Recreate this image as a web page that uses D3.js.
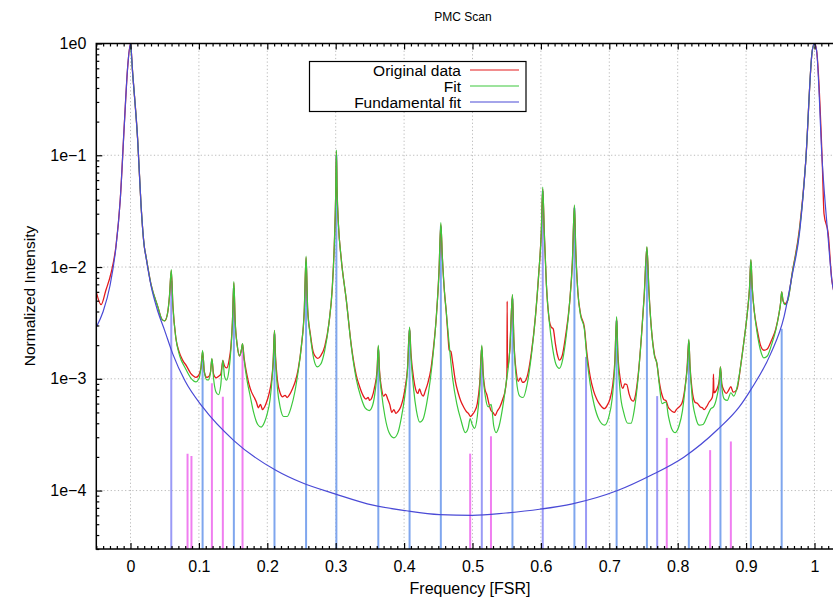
<!DOCTYPE html>
<html>
<head>
<meta charset="utf-8">
<script src="https://cdn.jsdelivr.net/npm/d3@7"></script>
<style>
  body { margin: 0; background: #fff; }
  svg { display: block; font-family: "Liberation Sans", Arial, sans-serif; }
</style>
</head>
<body>
<div id="chart"></div>
<script>
// PMC Scan — mode spectrum on a log scale
// values: [frequency (FSR), normalized intensity]

const originalData = [
  [-0.05, 6.0e-3], [-0.043, 4.6e-3], [-0.036, 6.2e-3], [-0.0285, 8.8e-3], [-0.0212, 0.0155],
  [-0.015, 0.04], [-0.009, 0.19], [-0.0041, 0.62], [0, 1.0], [0.0032, 0.54], [0.0105, 0.137],
  [0.0155, 0.035], [0.0202, 0.0152], [0.0226, 0.0125], [0.03, 7.0e-3], [0.04, 4.4e-3],
  [0.046, 3.4e-3], [0.05, 3.3e-3], [0.054, 3.8e-3], [0.057, 5.5e-3], [0.0596, 9.3e-3],
  [0.062, 4.5e-3], [0.0664, 2.3e-3], [0.071, 1.75e-3], [0.0762, 1.47e-3], [0.082, 1.3e-3],
  [0.088, 1.12e-3], [0.092, 1.06e-3], [0.0956, 1.03e-3], [0.099, 1.06e-3], [0.103, 1.25e-3],
  [0.1054, 1.75e-3], [0.108, 1.15e-3], [0.1115, 1.03e-3], [0.1145, 1.05e-3], [0.117, 1.15e-3],
  [0.119, 1.5e-3], [0.1215, 1.1e-3], [0.125, 1.02e-3], [0.1285, 1.05e-3], [0.132, 1.1e-3],
  [0.135, 1.45e-3], [0.1375, 1.3e-3], [0.1405, 1.25e-3], [0.144, 1.45e-3], [0.147, 2.0e-3],
  [0.149, 3.2e-3], [0.1511, 7.2e-3], [0.153, 3.3e-3], [0.156, 2.0e-3], [0.1595, 1.6e-3],
  [0.162, 1.8e-3], [0.1638, 2.05e-3], [0.166, 1.55e-3], [0.17, 1.1e-3], [0.1735, 8.8e-4],
  [0.177, 7.6e-4], [0.181, 6.8e-4], [0.184, 6.2e-4], [0.187, 5.5e-4], [0.19, 5.9e-4],
  [0.193, 5.3e-4], [0.196, 5.6e-4], [0.199, 6.2e-4], [0.2027, 7.4e-4], [0.206, 9.5e-4],
  [0.2085, 1.4e-3], [0.2105, 2.7e-3], [0.212, 1.6e-3], [0.215, 9.5e-4], [0.219, 7.4e-4],
  [0.2222, 6.9e-4], [0.226, 7.1e-4], [0.229, 6.8e-4], [0.233, 7.3e-4], [0.237, 8.2e-4],
  [0.241, 9.5e-4], [0.245, 1.2e-3], [0.25, 2.0e-3], [0.254, 4.0e-3], [0.2567, 1.22e-2],
  [0.259, 4.2e-3], [0.263, 2.5e-3], [0.267, 1.75e-3], [0.2708, 1.57e-3], [0.274, 1.52e-3],
  [0.278, 1.6e-3], [0.284, 1.95e-3], [0.29, 3.1e-3], [0.295, 6.5e-3], [0.298, 0.016],
  [0.3, 0.044], [0.301, 0.108], [0.302, 0.05], [0.304, 0.024], [0.308, 0.012], [0.3156, 5.0e-3],
  [0.323, 1.95e-3], [0.33, 1.08e-3], [0.335, 8.5e-4], [0.34, 7.1e-4], [0.344, 6.6e-4],
  [0.3475, 6.8e-4], [0.3496, 6.4e-4], [0.353, 6.8e-4], [0.357, 8.5e-4], [0.3605, 1.2e-3],
  [0.3623, 1.95e-3], [0.364, 1.2e-3], [0.367, 8.2e-4], [0.37, 7.0e-4], [0.373, 7.3e-4],
  [0.376, 6.6e-4], [0.379, 5.9e-4], [0.382, 5.0e-4], [0.385, 5.3e-4], [0.388, 4.9e-4],
  [0.391, 5.1e-4], [0.395, 5.6e-4], [0.3985, 6.6e-4], [0.4015, 8.3e-4], [0.405, 1.25e-3],
  [0.408, 2.85e-3], [0.41, 1.7e-3], [0.414, 1.0e-3], [0.417, 8.0e-4], [0.42, 7.4e-4],
  [0.4226, 8.1e-4], [0.425, 7.4e-4], [0.428, 7.0e-4], [0.431, 7.8e-4], [0.435, 9.3e-4],
  [0.439, 1.2e-3], [0.443, 1.9e-3], [0.447, 3.5e-3], [0.451, 9.0e-3], [0.4537, 2.4e-2],
  [0.456, 1.2e-2], [0.459, 6.0e-3], [0.4616, 4.0e-3], [0.464, 2.5e-3], [0.466, 1.8e-3],
  [0.4685, 1.75e-3], [0.471, 1.4e-3], [0.475, 9.5e-4], [0.479, 7.5e-4], [0.483, 6.3e-4],
  [0.487, 5.6e-4], [0.491, 5.1e-4], [0.494, 4.9e-4], [0.497, 4.6e-4], [0.5, 4.8e-4],
  [0.503, 5.1e-4], [0.507, 6.0e-4], [0.5105, 9.0e-4], [0.5136, 1.95e-3], [0.5155, 1.15e-3],
  [0.518, 8.2e-4], [0.521, 7.2e-4], [0.524, 6.0e-4], [0.527, 5.2e-4], [0.53, 5.0e-4],
  [0.533, 4.7e-4], [0.536, 5.1e-4], [0.54, 5.6e-4], [0.5443, 6.6e-4], [0.548, 8.0e-4],
  [0.5503, 1.1e-3], [0.5507, 4.95e-3], [0.5511, 1.25e-3], [0.5545, 1.8e-3], [0.5584, 5.6e-3],
  [0.5605, 2.2e-3], [0.564, 1.15e-3], [0.567, 9.5e-4], [0.57, 1.02e-3], [0.573, 9.3e-4],
  [0.576, 9.4e-4], [0.58, 1.05e-3], [0.586, 1.7e-3], [0.592, 3.6e-3], [0.597, 9.0e-3],
  [0.6005, 2.0e-2], [0.6027, 5.0e-2], [0.605, 2.0e-2], [0.608, 7.0e-3], [0.6124, 3.3e-3],
  [0.615, 2.9e-3], [0.618, 2.8e-3], [0.621, 2.1e-3], [0.624, 1.65e-3], [0.627, 1.47e-3],
  [0.631, 1.6e-3], [0.636, 2.4e-3], [0.642, 4.8e-3], [0.646, 1.1e-2], [0.649, 3.5e-2],
  [0.651, 1.4e-2], [0.654, 6.0e-3], [0.658, 3.8e-3], [0.6635, 2.9e-3], [0.667, 1.75e-3],
  [0.672, 1.05e-3], [0.677, 7.8e-4], [0.682, 6.5e-4], [0.687, 5.8e-4], [0.6927, 5.4e-4],
  [0.697, 5.8e-4], [0.701, 6.6e-4], [0.705, 8.8e-4], [0.708, 1.4e-3], [0.7107, 3.5e-3],
  [0.7125, 1.7e-3], [0.716, 1.0e-3], [0.72, 8.2e-4], [0.7225, 9.0e-4], [0.7255, 8.9e-4],
  [0.729, 7.3e-4], [0.732, 6.5e-4], [0.735, 6.3e-4], [0.738, 7.0e-4], [0.742, 1.05e-3],
  [0.747, 2.4e-3], [0.751, 5.5e-3], [0.755, 1.5e-2], [0.758, 6.0e-3], [0.762, 2.6e-3],
  [0.766, 1.65e-3], [0.7696, 1.37e-3], [0.773, 9.5e-4], [0.777, 7.2e-4], [0.78, 6.5e-4],
  [0.7828, 6.4e-4], [0.786, 5.6e-4], [0.789, 5.3e-4], [0.792, 5.1e-4], [0.795, 5.0e-4],
  [0.798, 5.3e-4], [0.802, 5.6e-4], [0.806, 6.0e-4], [0.81, 7.8e-4], [0.8135, 1.2e-3],
  [0.8163, 2.2e-3], [0.818, 1.3e-3], [0.821, 8.0e-4], [0.825, 6.2e-4], [0.829, 6.0e-4],
  [0.833, 5.6e-4], [0.836, 5.5e-4], [0.8387, 5.3e-4], [0.842, 5.6e-4], [0.846, 6.2e-4],
  [0.8505, 6.8e-4], [0.8518, 8.0e-4], [0.8523, 1.1e-3], [0.853, 7.5e-4], [0.857, 8.0e-4],
  [0.8605, 9.5e-4], [0.8625, 1.28e-3], [0.8645, 9.0e-4], [0.868, 7.8e-4], [0.871, 7.4e-4],
  [0.874, 7.8e-4], [0.8777, 8.5e-4], [0.881, 7.6e-4], [0.884, 7.7e-4], [0.887, 8.2e-4],
  [0.892, 1.3e-3], [0.897, 2.2e-3], [0.902, 4.0e-3], [0.905, 6.5e-3], [0.907, 1.15e-2],
  [0.909, 6.5e-3], [0.912, 4.0e-3], [0.916, 2.8e-3], [0.921, 2.0e-3], [0.926, 1.8e-3],
  [0.931, 1.85e-3], [0.937, 2.2e-3], [0.9434, 2.8e-3], [0.948, 3.8e-3], [0.9505, 4.8e-3],
  [0.952, 6.0e-3], [0.954, 5.0e-3], [0.957, 4.7e-3], [0.961, 5.1e-3], [0.9676, 9.0e-3],
  [0.978, 0.022], [0.987, 0.085], [0.9968, 0.87], [1.0, 1.0], [1.003, 0.87], [1.0114, 0.085],
  [1.0139, 0.03], [1.02, 0.02], [1.0255, 7.5e-3], [1.035, 4.6e-3], [1.05, 3.0e-3]
];

const fitData = [
  [0, 1.0], [0.0032, 0.54], [0.0105, 0.137], [0.0155, 0.035], [0.0202, 0.0152], [0.0226, 0.0125],
  [0.03, 7.0e-3], [0.04, 4.4e-3], [0.046, 3.4e-3], [0.05, 3.3e-3], [0.054, 3.8e-3],
  [0.057, 5.5e-3], [0.0596, 9.5e-3], [0.062, 4.5e-3], [0.0664, 2.3e-3], [0.072, 1.6e-3],
  [0.08, 1.25e-3], [0.088, 1.02e-3], [0.0956, 9.4e-4], [0.1, 1.0e-3], [0.103, 1.25e-3],
  [0.1054, 1.8e-3], [0.108, 1.15e-3], [0.1115, 9.8e-4], [0.1145, 9.8e-4], [0.117, 1.15e-3],
  [0.119, 1.52e-3], [0.1215, 1.0e-3], [0.125, 7.6e-4], [0.1285, 7.2e-4], [0.132, 8.8e-4],
  [0.135, 1.47e-3], [0.1375, 1.05e-3], [0.1405, 9.7e-4], [0.144, 1.2e-3], [0.147, 1.9e-3],
  [0.149, 3.2e-3], [0.1511, 7.4e-3], [0.153, 3.3e-3], [0.156, 2.0e-3], [0.1595, 1.6e-3],
  [0.162, 1.8e-3], [0.1638, 2.07e-3], [0.166, 1.5e-3], [0.17, 1.0e-3], [0.175, 7.0e-4],
  [0.18, 5.0e-4], [0.186, 3.9e-4], [0.191, 3.7e-4], [0.196, 4.1e-4], [0.2, 4.9e-4],
  [0.204, 6.5e-4], [0.207, 1.0e-3], [0.209, 1.6e-3], [0.2105, 2.72e-3], [0.212, 1.5e-3],
  [0.215, 8.0e-4], [0.219, 5.5e-4], [0.224, 4.6e-4], [0.229, 4.6e-4], [0.235, 5.6e-4],
  [0.24, 7.5e-4], [0.245, 1.15e-3], [0.25, 2.0e-3], [0.254, 4.0e-3], [0.2567, 1.25e-2],
  [0.259, 4.2e-3], [0.263, 2.4e-3], [0.268, 1.5e-3], [0.273, 1.28e-3], [0.278, 1.35e-3],
  [0.284, 1.8e-3], [0.29, 3.1e-3], [0.295, 6.5e-3], [0.298, 0.016], [0.3, 0.045], [0.301, 0.111],
  [0.302, 0.05], [0.304, 0.024], [0.308, 0.012], [0.3156, 5.0e-3], [0.323, 1.9e-3],
  [0.33, 1.0e-3], [0.337, 6.8e-4], [0.343, 5.5e-4], [0.349, 5.2e-4], [0.354, 5.8e-4],
  [0.358, 8.0e-4], [0.3605, 1.15e-3], [0.3623, 2.0e-3], [0.364, 1.15e-3], [0.367, 7.5e-4],
  [0.372, 4.6e-4], [0.378, 3.3e-4], [0.385, 2.96e-4], [0.391, 3.3e-4], [0.396, 4.5e-4],
  [0.401, 7.0e-4], [0.405, 1.2e-3], [0.408, 2.9e-3], [0.41, 1.6e-3], [0.414, 8.0e-4],
  [0.418, 5.2e-4], [0.423, 4.1e-4], [0.428, 4.4e-4], [0.433, 6.0e-4], [0.438, 9.5e-4],
  [0.443, 1.8e-3], [0.447, 3.5e-3], [0.451, 9.0e-3], [0.4537, 2.5e-2], [0.456, 1.2e-2],
  [0.459, 6.0e-3], [0.4616, 4.0e-3], [0.466, 2.0e-3], [0.471, 1.0e-3], [0.477, 6.0e-4],
  [0.483, 4.3e-4], [0.4895, 3.3e-4], [0.4935, 3.6e-4], [0.4966, 4.4e-4], [0.4995, 3.9e-4],
  [0.503, 3.6e-4], [0.507, 4.6e-4], [0.5105, 8.0e-4], [0.5136, 2.0e-3], [0.5155, 1.1e-3],
  [0.519, 6.8e-4], [0.523, 5.6e-4], [0.5273, 5.9e-4], [0.531, 3.8e-4], [0.5346, 3.3e-4],
  [0.539, 3.8e-4], [0.544, 5.5e-4], [0.549, 9.0e-4], [0.5545, 1.8e-3], [0.5584, 5.7e-3],
  [0.5605, 2.2e-3], [0.564, 1.0e-3], [0.569, 7.0e-4], [0.574, 6.8e-4], [0.58, 9.0e-4],
  [0.586, 1.6e-3], [0.592, 3.6e-3], [0.597, 9.0e-3], [0.6005, 2.0e-2], [0.6027, 5.2e-2],
  [0.605, 2.0e-2], [0.608, 7.0e-3], [0.6124, 3.2e-3], [0.617, 1.9e-3], [0.622, 1.35e-3],
  [0.627, 1.24e-3], [0.632, 1.5e-3], [0.637, 2.4e-3], [0.642, 4.8e-3], [0.646, 1.1e-2],
  [0.649, 3.6e-2], [0.651, 1.4e-2], [0.654, 6.0e-3], [0.658, 3.7e-3], [0.6635, 2.8e-3],
  [0.667, 1.6e-3], [0.672, 9.0e-4], [0.678, 5.8e-4], [0.685, 4.3e-4], [0.693, 3.85e-4],
  [0.699, 4.5e-4], [0.704, 6.5e-4], [0.708, 1.3e-3], [0.7107, 3.6e-3], [0.7125, 1.6e-3],
  [0.716, 7.5e-4], [0.721, 5.0e-4], [0.727, 4.0e-4], [0.7317, 4.0e-4], [0.737, 5.5e-4],
  [0.742, 1.0e-3], [0.747, 2.4e-3], [0.751, 5.5e-3], [0.755, 1.52e-2], [0.758, 6.0e-3],
  [0.762, 2.6e-3], [0.766, 1.6e-3], [0.7696, 1.37e-3], [0.773, 9.0e-4], [0.777, 6.0e-4],
  [0.7828, 6.2e-4], [0.7865, 4.6e-4], [0.791, 3.6e-4], [0.7965, 3.3e-4], [0.802, 3.8e-4],
  [0.807, 5.2e-4], [0.8115, 9.0e-4], [0.8145, 1.4e-3], [0.8163, 2.26e-3], [0.818, 1.3e-3],
  [0.821, 7.0e-4], [0.826, 4.6e-4], [0.8314, 3.85e-4], [0.837, 3.9e-4], [0.843, 4.6e-4],
  [0.8485, 5.4e-4], [0.8523, 5.6e-4], [0.857, 6.8e-4], [0.8605, 9.0e-4], [0.8625, 1.28e-3],
  [0.8645, 8.5e-4], [0.868, 6.6e-4], [0.8725, 6.4e-4], [0.8777, 7.5e-4], [0.882, 7.0e-4],
  [0.887, 8.5e-4], [0.892, 1.3e-3], [0.897, 2.2e-3], [0.902, 4.0e-3], [0.905, 6.5e-3],
  [0.907, 1.17e-2], [0.909, 6.5e-3], [0.912, 4.0e-3], [0.916, 2.6e-3], [0.921, 1.8e-3],
  [0.926, 1.54e-3], [0.931, 1.6e-3], [0.937, 2.0e-3], [0.9434, 2.72e-3], [0.948, 3.8e-3],
  [0.9505, 4.8e-3], [0.952, 6.0e-3], [0.954, 5.0e-3], [0.957, 4.6e-3], [0.961, 5.0e-3],
  [0.9676, 8.9e-3], [0.978, 0.021], [0.987, 0.085], [0.9968, 0.87], [1.0, 1.0]
];

const fundamentalFit = [
  [-0.05, 2.9e-3], [-0.04, 4.0e-3], [-0.03, 6.8e-3], [-0.0212, 0.0152], [-0.015, 0.04],
  [-0.009, 0.19], [-0.0041, 0.62], [0, 1.0], [0.0032, 0.54], [0.0105, 0.137], [0.0155, 0.035],
  [0.0202, 0.0152], [0.0226, 0.0123], [0.03, 6.8e-3], [0.04, 4.0e-3], [0.05, 2.7e-3],
  [0.0616, 1.68e-3], [0.08, 9.5e-4], [0.1054, 5.6e-4], [0.1511, 2.8e-4], [0.2124, 1.52e-4],
  [0.25, 1.18e-4], [0.3, 9.3e-5], [0.3545, 7.4e-5], [0.4032, 6.6e-5], [0.4518, 6.1e-5],
  [0.5, 6.0e-5], [0.549, 6.3e-5], [0.598, 6.8e-5], [0.646, 7.6e-5], [0.712, 1.0e-4],
  [0.761, 1.37e-4], [0.8095, 2.0e-4], [0.858, 3.5e-4], [0.89, 5.6e-4], [0.907, 8.0e-4],
  [0.936, 1.68e-3], [0.9555, 3.6e-3], [0.9676, 8.6e-3], [0.978, 0.02], [0.987, 0.085],
  [0.9968, 0.87], [1.0, 1.0], [1.003, 0.87], [1.0114, 0.085], [1.02, 0.018], [1.0255, 7.5e-3],
  [1.035, 4.5e-3], [1.05, 2.9e-3]
];

// fitted mode amplitudes, drawn as impulses
const modesBlue = [
  [0.1054, 1.5e-3], [0.1511, 6.5e-3], [0.2105, 2.5e-3], [0.2567, 1.1e-2], [0.301, 0.1],
  [0.3623, 1.8e-3], [0.408, 2.7e-3], [0.4537, 2.3e-2], [0.5584, 5.2e-3], [0.649, 3.4e-2],
  [0.7107, 3.3e-3], [0.755, 1.4e-2], [0.8163, 2.1e-3], [0.8625, 1.15e-3], [0.907, 1.1e-2],
  [0.952, 2.8e-3]
];
const modesViolet = [
  [0.0596, 7.5e-3], [0.5136, 1.8e-3], [0.6027, 4.8e-2], [0.666, 1.57e-3], [0.77, 7.0e-4]
];
const modesPink = [
  [0.0834, 2.14e-4], [0.0891, 2.04e-4], [0.119, 9.1e-4], [0.135, 6.9e-4], [0.1638, 1.9e-3],
  [0.4966, 2.14e-4], [0.527, 3.06e-4], [0.784, 2.96e-4], [0.8474, 2.3e-4], [0.8777, 2.75e-4]
];

const xTickValues = [0, 0.1, 0.2, 0.3, 0.4, 0.5, 0.6, 0.7, 0.8, 0.9, 1];
const yTickValues = [1e-4, 1e-3, 1e-2, 1e-1, 1];
const yTickLabels = ['1e\u22124', '1e\u22123', '1e\u22122', '1e\u22121', '1e0'];

const legendItems = [
  { label: 'Original data', color: '#e41a1c' },
  { label: 'Fit', color: '#3cc83c' },
  { label: 'Fundamental fit', color: '#4a4ad6' }
];

const width = 833, height = 602;
const plot = { left: 96.3, top: 43.5, right: 848.7, bottom: 549 };

const svg = d3.select('#chart').append('svg')
  .attr('width', width)
  .attr('height', height);

const x = d3.scaleLinear().domain([-0.05, 1.05]).range([plot.left, plot.right]);
const y = d3.scaleLog().domain([3e-5, 1]).range([plot.bottom, plot.top]);

svg.append('defs').append('clipPath').attr('id', 'clip')
  .append('rect')
  .attr('x', plot.left).attr('y', plot.top)
  .attr('width', plot.right - plot.left).attr('height', plot.bottom - plot.top);

// grid
const grid = svg.append('g').attr('stroke', '#a8a8a8').attr('stroke-width', 0.8)
  .attr('stroke-dasharray', '1.2,2.4');
grid.selectAll('line.gx').data(xTickValues).enter().append('line')
  .attr('x1', d => x(d)).attr('x2', d => x(d))
  .attr('y1', plot.top).attr('y2', plot.bottom);
grid.selectAll('line.gy').data(yTickValues.slice(0, -1)).enter().append('line')
  .attr('x1', plot.left).attr('x2', plot.right)
  .attr('y1', d => y(d)).attr('y2', d => y(d));

const plotArea = svg.append('g').attr('clip-path', 'url(#clip)');

// impulses
function drawModes(modes, color, w) {
  plotArea.append('g').selectAll('line').data(modes).enter().append('line')
    .attr('x1', d => x(d[0])).attr('x2', d => x(d[0]))
    .attr('y1', plot.bottom).attr('y2', d => y(d[1]))
    .attr('stroke', color).attr('stroke-width', w);
}
drawModes(modesBlue, '#7fa6ee', 2);
drawModes(modesViolet, '#9a9af6', 2);
drawModes(modesPink, '#f07ef0', 2);

const line = d3.line().x(d => x(d[0])).y(d => y(d[1])).curve(d3.curveMonotoneX);

plotArea.append('path').datum(originalData)
  .attr('fill', 'none').attr('stroke', legendItems[0].color).attr('stroke-width', 1.3)
  .attr('d', line);
plotArea.append('path').datum(fitData)
  .attr('fill', 'none').attr('stroke', legendItems[1].color).attr('stroke-width', 1.2)
  .attr('d', line);
plotArea.append('path').datum(fundamentalFit)
  .attr('fill', 'none').attr('stroke', legendItems[2].color).attr('stroke-width', 1.2)
  .attr('d', line);

// axes (gnuplot style: ticks inside, mirrored)
const minorX = d3.range(-5, 106).map(i => i / 100).filter(v => Math.round(v * 100) % 10 !== 0);
const minorY = [];
for (let e = -5; e < 0; e++) for (let m = 2; m < 10; m++) {
  const v = m * Math.pow(10, e);
  if (v >= 3e-5 && v <= 1) minorY.push(v);
}

function styleAxis(g) {
  g.select('.domain').remove();
  g.selectAll('line').attr('stroke', '#000').attr('stroke-width', 1.2);
  g.selectAll('text').attr('font-size', 16).attr('fill', '#000')
    .attr('font-family', '"Liberation Sans", Arial, sans-serif');
}

svg.append('g').attr('transform', `translate(0,${plot.bottom})`)
  .call(d3.axisBottom(x).tickValues(xTickValues).tickSize(-6).tickPadding(12)
    .tickFormat(d3.format('')))
  .call(styleAxis);
svg.append('g').attr('transform', `translate(0,${plot.bottom})`)
  .call(d3.axisBottom(x).tickValues(minorX).tickSize(-3).tickFormat(''))
  .call(styleAxis);
svg.append('g').attr('transform', `translate(0,${plot.top})`)
  .call(d3.axisTop(x).tickValues(xTickValues).tickSize(-6).tickFormat(''))
  .call(styleAxis);
svg.append('g').attr('transform', `translate(0,${plot.top})`)
  .call(d3.axisTop(x).tickValues(minorX).tickSize(-3).tickFormat(''))
  .call(styleAxis);
svg.append('g').attr('transform', `translate(${plot.left},0)`)
  .call(d3.axisLeft(y).tickValues(yTickValues).tickSize(-6).tickPadding(10)
    .tickFormat((d, i) => yTickLabels[i]))
  .call(styleAxis);
svg.append('g').attr('transform', `translate(${plot.left},0)`)
  .call(d3.axisLeft(y).tickValues(minorY).tickSize(-3).tickFormat(''))
  .call(styleAxis);

// frame
svg.append('rect')
  .attr('x', plot.left).attr('y', plot.top)
  .attr('width', plot.right - plot.left).attr('height', plot.bottom - plot.top)
  .attr('fill', 'none').attr('stroke', '#000').attr('stroke-width', 1.5);

// titles
svg.append('text').attr('x', 463).attr('y', 21).attr('text-anchor', 'middle')
  .attr('font-size', 12).text('PMC Scan');
svg.append('text').attr('x', 470).attr('y', 594).attr('text-anchor', 'middle')
  .attr('font-size', 16).text('Frequency [FSR]');
svg.append('text').attr('transform', 'translate(35,296) rotate(-90)')
  .attr('text-anchor', 'middle').attr('font-size', 15.5).text('Normalized Intensity');

// legend
const legend = svg.append('g');
legend.append('rect')
  .attr('x', 309.5).attr('y', 61.5).attr('width', 216.5).attr('height', 50)
  .attr('fill', '#fff').attr('stroke', '#000').attr('stroke-width', 1.2);
legendItems.forEach((item, i) => {
  const cy = 70 + i * 16;
  legend.append('text').attr('x', 461).attr('y', cy + 5.5).attr('text-anchor', 'end')
    .attr('font-size', 15.5).text(item.label);
  legend.append('line').attr('x1', 470).attr('x2', 519).attr('y1', cy).attr('y2', cy)
    .attr('stroke', item.color).attr('stroke-width', 1.2);
});
</script>
</body>
</html>
